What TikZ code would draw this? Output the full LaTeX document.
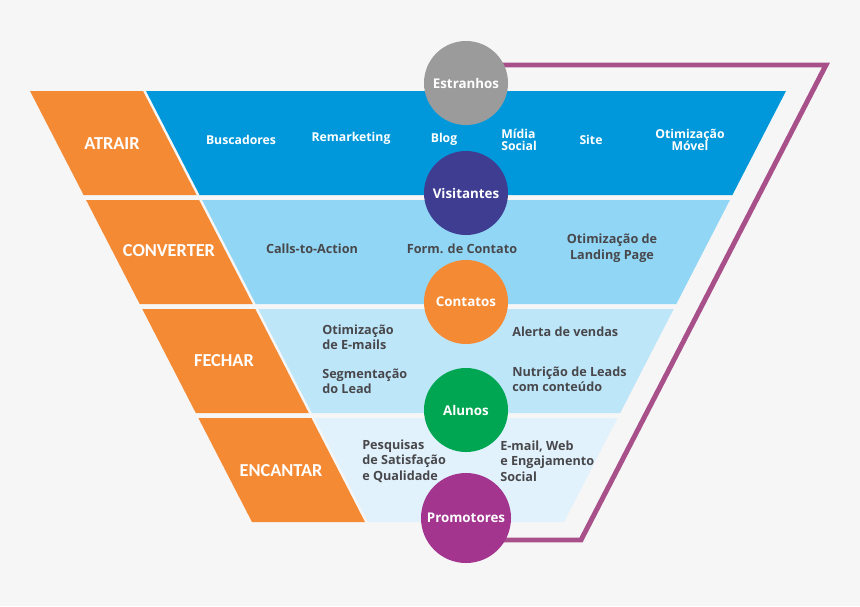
\documentclass[tikz,border=0pt]{standalone}
\usepackage{fontspec}
\setmainfont{Open Sans}
\newfontfamily\stagefont{Carlito}
\usepackage{xcolor}
\definecolor{funnelBg}{HTML}{F6F6F6}
\definecolor{funnelOrange}{HTML}{F58A35}
\definecolor{funnelBlueA}{HTML}{0098DA}
\definecolor{funnelBlueB}{HTML}{91D7F5}
\definecolor{funnelBlueC}{HTML}{BEE6F9}
\definecolor{funnelBlueD}{HTML}{E1F2FC}
\definecolor{funnelGray}{HTML}{9B9B9C}
\definecolor{funnelIndigo}{HTML}{3F3D92}
\definecolor{funnelGreen}{HTML}{00A651}
\definecolor{funnelPurple}{HTML}{A3358F}
\definecolor{funnelLine}{HTML}{A8508A}
\definecolor{funnelText}{HTML}{48484C}
\usepackage{tikz}
\usetikzlibrary{arrows.meta,calc,positioning}
\pgfdeclarelayer{background}
\pgfsetlayers{background,main}

\begin{document}
\begin{tikzpicture}[x=0.025cm,y=-0.025cm,font=\bfseries\fontsize{9}{11}\selectfont]
  \tikzset{
    stagepiece/.style={fill=funnelOrange},
    stagelabel/.style={
      font=\stagefont\bfseries\fontsize{13}{15}\selectfont,
      text=white,
      inner sep=0pt
    },
    stagecircle/.style={
      circle,
      minimum size=2.1cm,
      inner sep=0pt,
      text=white,
      font=\bfseries\fontsize{9.5}{11}\selectfont
    },
    toolnote/.style={text=funnelText,inner sep=0pt,align=left},
    toolnotelight/.style={
      inner sep=0pt,
      text=white,
      align=center,
      font=\bfseries\fontsize{8.7}{8.8}\selectfont
    },
    cycleline/.style={draw=funnelLine,line width=3.5pt,line join=miter}
  }
  \begin{pgfonlayer}{background}
    \path[use as bounding box,fill=funnelBg] (0,0) rectangle (860,606);
  \end{pgfonlayer}

  % funnel bands
  \fill[funnelBlueA] (146,91) -- (786,91) -- (732.4,195) -- (199.6,195) -- cycle;
  \fill[funnelBlueB] (202.1,200) -- (729.9,200) -- (676.3,304) -- (255.7,304) -- cycle;
  \fill[funnelBlueC] (258.3,309) -- (673.7,309) -- (620.2,413) -- (311.8,413) -- cycle;
  \fill[funnelBlueD] (314.4,418) -- (617.6,418) -- (564,522) -- (368,522) -- cycle;

  % stage pieces
  \fill[stagepiece] (30,91) -- (143,91) -- (196.6,195) -- (83.6,195) -- cycle;
  \fill[stagepiece] (86.1,200) -- (199.1,200) -- (252.7,304) -- (139.7,304) -- cycle;
  \fill[stagepiece] (142.3,309) -- (255.3,309) -- (308.8,413) -- (195.8,413) -- cycle;
  \fill[stagepiece] (198.4,418) -- (311.4,418) -- (365,522) -- (252,522) -- cycle;

  \node[stagelabel] (atrair) at (112,144) {ATRAIR};
  \node[stagelabel] (converter) at (169,251) {CONVERTER};
  \node[stagelabel] (fechar) at (224,361) {FECHAR};
  \node[stagelabel] (encantar) at (281,471) {ENCANTAR};

  % tools per stage
  \node[toolnotelight] (buscadores) at (241,140) {Buscadores};
  \node[toolnotelight] (remarketing) at (351,138) {Remarketing};
  \node[toolnotelight] (blog) at (444,139) {Blog};
  \node[toolnotelight,align=left] (midia) at (519,140) {Mídia\\Social};
  \node[toolnotelight] (site) at (591,140) {Site};
  \node[toolnotelight] (movel) at (690,140) {Otimização\\Móvel};

  \node[toolnote] (calls) at (312,249) {Calls-to-Action};
  \node[toolnote] (form) at (462,249) {Form. de Contato};
  \node[toolnote,align=center] (landing) at (612,248) {Otimização de\\Landing Page};

  \node[toolnote,anchor=west] (emails) at (322,337) {Otimização\\de E-mails};
  \node[toolnote,anchor=west] (segment) at (322,381) {Segmentação\\do Lead};
  \node[toolnote,anchor=west] (alerta) at (512,332) {Alerta de vendas};
  \node[toolnote,anchor=west] (nutricao) at (512,379) {Nutrição de Leads\\com conteúdo};

  \node[toolnote,anchor=west] (pesquisas) at (362,461) {Pesquisas\\de Satisfação\\e Qualidade};
  \node[toolnote,anchor=west] (engaja) at (500,461) {E-mail, Web\\e Engajamento\\Social};

  % people at each step
  \node[stagecircle,fill=funnelGray] (estranhos) at (466,83) {Estranhos};
  \node[stagecircle,fill=funnelIndigo] (visitantes) at (466,193) {Visitantes};
  \node[stagecircle,fill=funnelOrange] (contatos) at (466,302) {Contatos};
  \node[stagecircle,fill=funnelGreen] (alunos) at (466,410) {Alunos};
  \node[stagecircle,fill=funnelPurple,minimum size=2.25cm] (promotores) at (466,518) {Promotores};

  \begin{pgfonlayer}{background}
    \coordinate (loopne) at (826,65);
    \coordinate (loopse) at (581,540);
    \draw[cycleline] (estranhos.center |- loopne) -- (loopne) -- (loopse) -- (promotores.center |- loopse);
  \end{pgfonlayer}
\end{tikzpicture}
\end{document}
